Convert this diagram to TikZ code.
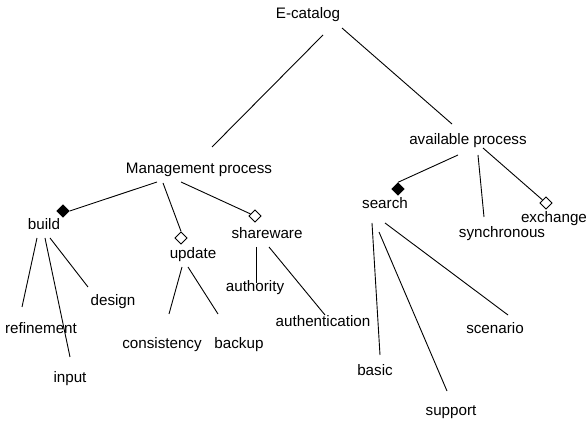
\documentclass[tikz,border=0pt]{standalone}
\usepackage{fontspec}
\setmainfont{Liberation Sans}
\usetikzlibrary{shapes.geometric}
\begin{document}
\begin{tikzpicture}[x=1pt,y=-1pt,
  lbl/.style={inner sep=0pt,font=\fontsize{15.2}{17}\selectfont,text height=10pt,text depth=3pt},
  edge/.style={line width=0.9pt},
  dia/.style={diamond,draw,line width=0.9pt,aspect=1,inner sep=0pt,minimum width=12.5pt,minimum height=12.5pt},
  fdia/.style={dia,fill=black}]
\useasboundingbox (0,0) rectangle (587,422);
% labels
\node[lbl] (ecat) at (308,15) {E-catalog};
\node[lbl] (mgmt) at (199,170) {Management process};
\node[lbl] (avail) at (468,141) {available process};
\node[lbl] (build) at (44,226) {build};
\node[lbl] (update) at (193,255) {update};
\node[lbl] (share) at (267,235) {shareware};
\node[lbl] (search) at (385,205) {search};
\node[lbl] (sync) at (502,234) {synchronous};
\node[lbl] (exch) at (554,219) {exchange};
\node[lbl] (design) at (113,302) {design};
\node[lbl] (refine) at (41,330) {refinement};
\node[lbl] (input) at (70,379) {input};
\node[lbl] (consis) at (162,345) {consistency};
\node[lbl] (backup) at (239,345) {backup};
\node[lbl] (author) at (255,288) {authority};
\node[lbl] (authen) at (323,323) {authentication};
\node[lbl] (basic) at (375,372) {basic};
\node[lbl] (scen) at (495,330) {scenario};
\node[lbl] (support) at (451,412) {support};
% diamonds
\node[fdia] (dbuild) at (63,211) {};
\node[dia] (dupdate) at (181,238) {};
\node[dia] (dshare) at (255,216) {};
\node[fdia] (dsearch) at (398,189) {};
\node[dia] (dexch) at (546,203) {};
% connectors
\draw[edge] ([shift={(15,20)}]ecat.center) -- ([shift={(13,-23)}]mgmt.center);
\draw[edge] ([shift={(34,13)}]ecat.center) -- ([shift={(-16,-17)}]avail.center);
\draw[edge] ([shift={(-42,12)}]mgmt.center) -- (dbuild.east);
\draw[edge] ([shift={(-36,13)}]mgmt.center) -- (dupdate.north);
\draw[edge] ([shift={(-18,12)}]mgmt.center) -- (dshare);
\draw[edge] ([shift={(-7,12)}]build.center) -- ([shift={(-19,-23)}]refine.center);
\draw[edge] ([shift={(1,12)}]build.center) -- ([shift={(0,-22)}]input.center);
\draw[edge] ([shift={(6,12)}]build.center) -- ([shift={(-25,-15)}]design.center);
\draw[edge] ([shift={(-11,12)}]update.center) -- ([shift={(7,-31)}]consis.center);
\draw[edge] ([shift={(-5,12)}]update.center) -- ([shift={(-21,-31)}]backup.center);
\draw[edge] ([shift={(-11,12)}]share.center) -- ([shift={(1,-5)}]author.center);
\draw[edge] ([shift={(2,12)}]share.center) -- ([shift={(2,-8)}]authen.center);
\draw[edge] ([shift={(-10,14)}]avail.center) -- (dsearch.north);
\draw[edge] ([shift={(10,14)}]avail.center) -- ([shift={(-18,-17)}]sync.center);
\draw[edge] ([shift={(15,7)}]avail.center) -- (dexch);
\draw[edge] ([shift={(-13,18)}]search.center) -- ([shift={(5,-17)}]basic.center);
\draw[edge] ([shift={(-6,27)}]search.center) -- ([shift={(-4,-21)}]support.center);
\draw[edge] ([shift={(0,18)}]search.center) -- ([shift={(13,-15)}]scen.center);
\end{tikzpicture}
\end{document}
